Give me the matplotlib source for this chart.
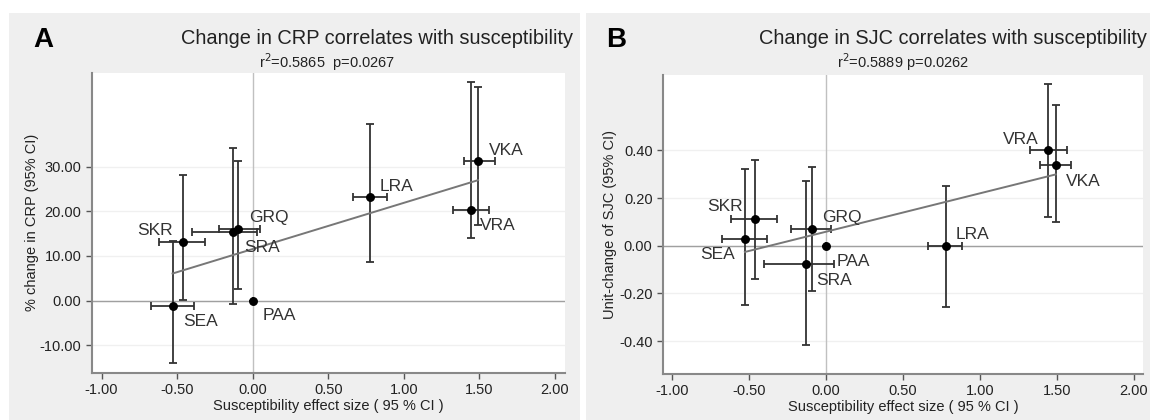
import numpy as np
import matplotlib
matplotlib.use("Agg")
import matplotlib.pyplot as plt
from matplotlib.patches import Rectangle

plt.rcParams['font.family'] = ['Liberation Sans', 'DejaVu Sans']

labels = ["SEA", "SKR", "SRA", "GRQ", "PAA", "LRA", "VRA", "VKA"]

# Panel A: CRP
a_x = [-0.530, -0.464, -0.130, -0.094, 0.0, 0.777, 1.443, 1.491]
a_xlo = [-0.675, -0.619, -0.401, -0.220, 0.0, 0.664, 1.327, 1.395]
a_xhi = [-0.389, -0.316, 0.027, 0.047, 0.0, 0.887, 1.564, 1.600]
a_y = [-1.2, 13.2, 15.4, 16.0, 0.0, 23.1, 20.3, 31.3]
a_ylo = [-14.0, 0.2, -0.7, 2.5, 0.0, 8.6, 14.0, 16.9]
a_yhi = [13.4, 28.0, 34.2, 31.3, 0.0, 39.5, 49.0, 47.7]
a_lab_x = [-0.462, -0.764, -0.058, -0.026, 0.064, 0.843, 1.504, 1.564]
a_lab_y = [-4.7, 15.7, 11.9, 18.65, -3.4, 25.5, 16.9, 33.7]
a_yticks = [-10, 0, 10, 20, 30]

# Panel B: SJC
b_x = [-0.527, -0.463, -0.129, -0.094, 0.0, 0.777, 1.445, 1.493]
b_xlo = [-0.673, -0.616, -0.401, -0.225, 0.0, 0.663, 1.326, 1.393]
b_xhi = [-0.382, -0.316, 0.052, 0.031, 0.0, 0.887, 1.565, 1.593]
b_y = [0.028, 0.112, -0.078, 0.070, 0.0, 0.0, 0.400, 0.340]
b_ylo = [-0.248, -0.139, -0.418, -0.190, 0.0, -0.259, 0.121, 0.100]
b_yhi = [0.320, 0.361, 0.271, 0.331, 0.0, 0.250, 0.680, 0.589]
b_lab_x = [-0.816, -0.769, -0.063, -0.027, 0.066, 0.844, 1.147, 1.560]
b_lab_y = [-0.035, 0.166, -0.146, 0.119, -0.067, 0.045, 0.445, 0.271]
b_yticks = [-0.4, -0.2, 0.0, 0.2, 0.4]

xticks = [-1.0, -0.5, 0.0, 0.5, 1.0, 1.5, 2.0]

W, H = 1150, 420
fig = plt.figure(figsize=(W / 100, H / 100), dpi=100)
fig.patch.set_facecolor('white')

GREY = '#efefef'
for (x0, w0) in [(9, 571), (586, 564)]:
    fig.add_artist(Rectangle((x0 / W, 0), w0 / W, 407 / H, transform=fig.transFigure,
                             facecolor=GREY, edgecolor='none', zorder=-10))


def panel(rect, x, xlo, xhi, y, ylo, yhi, lx, ly, yticks, ylim, xlim, fmt,
          ylabel, title, sub, letter, letter_x, title_x, sub_x, ylabel_x):
    l, r, t, b = rect
    ax = fig.add_axes([l / W, (H - b) / H, (r - l) / W, (b - t) / H])
    ax.set_zorder(1)
    ax.set_facecolor('white')
    x = np.array(x); y = np.array(y)
    for yt in yticks:
        ax.axhline(yt, color='#f0f0f0', lw=1.0, zorder=1)
    ax.axhline(0, color='#a0a0a0', lw=1.0, zorder=2)
    ax.axvline(0, color='#c0c0c0', lw=1.0, zorder=2)
    xerr = np.array([x - np.array(xlo), np.array(xhi) - x])
    yerr = np.array([y - np.array(ylo), np.array(yhi) - y])
    ax.errorbar(x, y, xerr=xerr, yerr=yerr, fmt='none', ecolor='#333333',
                elinewidth=1.3, capsize=3, capthick=1.3, zorder=3)
    ax.plot(x, y, 'o', color='black', ms=5.4, zorder=5)
    k, c = np.polyfit(x, y, 1)
    xs = np.array([x.min(), x.max()])
    ax.plot(xs, k * xs + c, color='#777777', lw=1.4, zorder=4)
    for name, tx, ty in zip(labels, lx, ly):
        ax.text(tx, ty, name, fontsize=12.5, color='#333333', ha='left',
                va='center', zorder=6)
    ax.set_xlim(*xlim)
    ax.set_ylim(*ylim)
    ax.set_xticks(xticks)
    ax.set_xticklabels([f"{v:.2f}" for v in xticks])
    ax.set_yticks(yticks)
    ax.set_yticklabels([fmt.format(v) for v in yticks])
    for s in ['top', 'right']:
        ax.spines[s].set_visible(False)
    for s in ['left', 'bottom']:
        ax.spines[s].set_color('#888888')
        ax.spines[s].set_linewidth(1.5)
    ax.tick_params(axis='both', colors='#555555', labelcolor='#222222',
                   labelsize=10.5, length=4, width=1)
    ax.set_xlabel("Susceptibility effect size ( 95 % CI )", fontsize=10.5,
                  color='#222222', labelpad=1)
    fig.text(ylabel_x / W, (H - (t + b) / 2) / H, ylabel, rotation=90,
             fontsize=10.5, color='#222222', ha='center', va='center')
    fig.text(title_x / W, (H - 38) / H, title, fontsize=14.4, color='#222222',
             ha='center', va='center')
    fig.text(sub_x / W, (H - 62) / H, sub, fontsize=10.5, color='#222222',
             ha='center', va='center')
    fig.text(letter_x / W, (H - 40) / H, letter, fontsize=20, fontweight='bold',
             color='black', ha='center', va='center')
    return ax


panel((92, 565, 72.7, 373), a_x, a_xlo, a_xhi, a_y, a_ylo, a_yhi, a_lab_x, a_lab_y,
      a_yticks, (-16.2, 51.0), (-1.063, 2.066), "{:.2f}",
      "% change in CRP (95% CI)", "Change in CRP correlates with susceptibility",
      r"r$^{2}$=0.5865  p=0.0267", "A", 43, 377, 327, 32)

panel((663, 1143, 75, 374), b_x, b_xlo, b_xhi, b_y, b_ylo, b_yhi, b_lab_x, b_lab_y,
      b_yticks, (-0.538, 0.716), (-1.059, 2.06), "{:.2f}",
      "Unit-change of SJC (95% CI)", "Change in SJC correlates with susceptibility",
      r"r$^{2}$=0.5889 p=0.0262", "B", 616, 953, 903, 610)

fig.savefig("out.png", dpi=100)
